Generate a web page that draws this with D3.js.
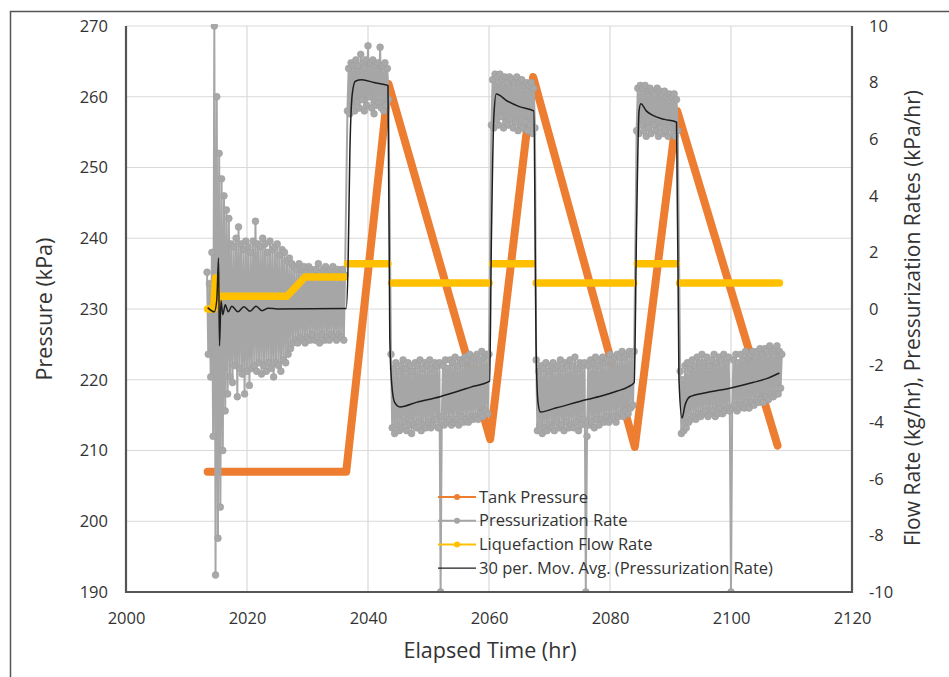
<!DOCTYPE html>
<html>
<head>
<meta charset="utf-8">
<script src="https://cdn.jsdelivr.net/npm/d3@7"></script>
<style>
  body { margin: 0; background: #fff; }
  text { font-family: "Open Sans", sans-serif; fill: #333; }
</style>
</head>
<body>
<script>
/* tank pressure, kPa (left axis) */
var pressTime = [2013.5, 2036.4, 2043.4, 2060.2, 2067.3, 2084.1, 2091.1, 2107.7];
var pressVal  = [207.0, 207.0, 261.8, 211.6, 262.8, 210.5, 258.0, 210.7];

/* pressurization rate, kPa/hr (right axis) - blocks sampled every 0.2 hr */
var rateStart = [2013.4, 2017.2, 2036.6, 2043.8, 2060.4, 2067.8, 2084.4, 2091.6];
var rateStep = 0.2;
var rateEarly1 = [1.3, -1.6, 0.9, -2.4, 2.0, -4.5, 10.0, -9.4, 7.5, -8.1, 5.5, -7.0, 4.6, -5.0, 4.0, -3.6, 3.5, -3.0, 3.2];
var rateEarly2 = [-2.4, 2.3, -2.6, 2.2, -2.0, 2.5, -3.1, 2.9, -2.1, 2.3,
                  -2.3, 2.1, -3.0, 2.4, -2.2, 2.2, -2.7, 2.0, -2.1, 2.4,
                  -2.0, 3.1, -2.2, 2.3, -1.9, 2.2, -2.3, 2.5, -2.0, 2.3,
                  -2.2, 2.0, -1.9, 2.4, -2.1, 2.1, -2.4, 2.2, -1.9, 2.3,
                  -2.0, 1.9, -2.2, 2.1, -1.8, 2.0, -1.9, 1.7, -1.6, 1.8,
                  -1.4, 1.6, -1.2, 1.5, -1.1, 1.4, -1.2, 1.6, -1.0, 1.4,
                  -1.1, 1.5, -1.2, 1.3, -1.0, 1.5, -1.1, 1.4, -0.9, 1.3,
                  -1.1, 1.4, -1.0, 1.6, -1.2, 1.3, -0.9, 1.4, -1.1, 1.5,
                  -1.0, 1.3, -1.1, 1.4, -0.9, 1.5, -1.0, 1.3, -1.1, 1.4,
                  -0.9, 1.3, -1.0, 1.4, -1.1, 1.2];
var rateA = [7.0, 8.5, 6.9, 8.7, 7.2, 8.6, 7.0, 8.8, 7.3, 8.6,
             7.1, 9.0, 7.4, 8.7, 7.0, 8.8, 7.2, 9.3, 7.5, 8.7,
             7.1, 8.8, 6.9, 8.6, 7.2, 8.7, 7.3, 9.25, 7.1, 8.6,
             7.0, 8.7, 7.2, 8.5, 7.4];
var rateB = [-1.6, -4.2, -2.1, -4.4, -1.9, -4.1, -2.2, -4.3, -2.0, -4.2,
             -1.8, -4.0, -2.1, -4.3, -1.9, -4.1, -2.0, -4.4, -2.2, -4.1,
             -1.9, -4.2, -2.0, -4.0, -1.8, -4.3, -2.1, -4.1, -1.9, -4.2,
             -2.0, -4.0, -1.8, -4.2, -2.1, -4.1, -1.9, -3.9, -2.0, -4.2,
             -1.9, -10.0, -3.8, -2.0, -4.1, -1.8, -4.0, -2.1, -3.9, -1.8,
             -4.1, -1.9, -4.0, -1.7, -3.9, -2.0, -4.1, -1.8, -3.8, -1.9,
             -4.0, -1.7, -3.9, -1.8, -4.0, -1.6, -3.8, -1.9, -3.9, -1.7,
             -3.8, -1.6, -3.9, -1.8, -3.7, -1.5, -3.8, -1.7, -3.6, -1.6,
             -3.7, -1.6];
var rateC = [6.5, 8.1, 6.4, 8.3, 6.7, 8.2, 6.5, 8.3, 6.8, 8.1,
             6.4, 8.2, 6.6, 8.0, 6.5, 8.2, 6.7, 8.1, 6.4, 8.0,
             6.6, 8.2, 6.3, 8.0, 6.5, 8.1, 6.4, 7.9, 6.6, 8.0,
             6.3, 7.9, 6.5, 8.0, 6.2, 7.8, 6.4];
var rateD = [-1.8, -4.3, -2.2, -4.1, -2.0, -4.4, -2.1, -4.2, -1.9, -4.3,
             -2.2, -4.1, -2.0, -4.2, -1.9, -4.3, -2.1, -4.0, -2.0, -4.2,
             -1.8, -4.1, -2.1, -4.3, -1.9, -4.0, -2.0, -4.2, -1.8, -4.1,
             -2.0, -4.2, -1.7, -4.0, -2.1, -4.3, -1.9, -4.1, -2.0, -3.9,
             -1.9, -10.0, -4.5, -2.0, -4.1, -1.8, -4.0, -1.9, -4.2, -1.7,
             -3.9, -2.0, -4.1, -1.8, -3.9, -1.7, -4.0, -1.9, -3.8, -1.8,
             -4.0, -1.6, -3.9, -1.8, -3.8, -1.7, -4.0, -1.6, -3.8, -1.7,
             -3.7, -1.5, -3.8, -1.7, -3.6, -1.6, -3.7, -1.5, -3.5, -1.6,
             -3.4, -1.5];
var rateE = [6.3, 7.8, 6.2, 7.9, 6.5, 7.8, 6.3, 7.9, 6.1, 7.7,
             6.4, 7.8, 6.2, 7.7, 6.5, 7.6, 6.3, 7.8, 6.1, 7.7,
             6.4, 7.6, 6.2, 7.7, 6.3, 7.5, 6.1, 7.6, 6.4, 7.5,
             6.2, 7.6, 6.1, 7.4, 6.3];
var rateF = [-2.2, -4.4, -2.5, -4.3, -2.0, -4.2, -1.9, -4.0, -2.1, -3.9,
             -1.8, -3.8, -2.0, -3.9, -1.7, -3.7, -1.9, -3.8, -1.6, -3.7,
             -1.9, -3.6, -1.7, -3.8, -2.0, -3.7, -1.8, -3.6, -1.6, -3.8,
             -1.9, -3.7, -1.7, -3.5, -1.8, -3.7, -1.6, -3.6, -1.9, -3.5,
             -1.7, -3.6, -10.0, -3.5, -1.8, -3.4, -1.6, -3.6, -1.9, -3.5,
             -1.6, -3.4, -1.8, -3.5, -1.5, -3.3, -1.7, -3.5, -1.6, -3.3,
             -1.5, -3.4, -1.7, -3.2, -1.5, -3.3, -1.4, -3.2, -1.6, -3.3,
             -1.4, -3.1, -1.5, -3.2, -1.3, -3.0, -1.5, -3.1, -1.4, -3.0,
             -1.3, -3.0, -1.5, -2.8, -1.6];
var rateBlocks = [rateEarly1, rateEarly2, rateA, rateB, rateC, rateD, rateE, rateF];

/* 30 per. moving average of pressurization rate */
var avgTime = [2013.5, 2014.6, 2015.0, 2015.3, 2015.45, 2015.7, 2016.0, 2016.4, 2016.9, 2017.5,
               2018.5, 2019.5, 2020.5, 2021.5, 2022.5, 2023.5, 2025.0, 2036.4,
               2036.7, 2037.0, 2037.4, 2037.9, 2039.0, 2041.0, 2043.3,
               2043.6, 2043.9, 2044.4, 2045.3, 2048.0, 2051.9, 2055.0, 2057.0, 2060.1,
               2060.4, 2060.8, 2061.2, 2063.0, 2065.0, 2067.4,
               2067.8, 2068.1, 2068.5, 2071.0, 2076.2, 2079.0, 2081.2, 2083.0, 2084.0,
               2084.4, 2084.8, 2085.1, 2086.0, 2087.0, 2089.0, 2091.0,
               2091.4, 2091.9, 2092.4, 2093.2, 2096.0, 2099.8, 2103.6, 2106.0, 2108.0];
var avgVal  = [0.05, -0.1, 0.3, 1.8, -1.3, 0.3, -0.2, 0.15, -0.1, 0.1,
               -0.1, 0.08, -0.08, 0.1, -0.06, 0.03, 0.0, 0.02,
               1.5, 5.5, 7.6, 8.05, 8.1, 8.0, 7.9,
               -1.0, -2.6, -3.3, -3.46, -3.3, -3.1, -2.9, -2.76, -2.55,
               2.5, 6.8, 7.6, 7.35, 7.15, 7.0,
               -1.5, -3.3, -3.64, -3.5, -3.2, -3.05, -2.9, -2.75, -2.6,
               3.0, 7.0, 7.25, 7.0, 6.85, 6.7, 6.6,
               -2.5, -3.85, -3.4, -3.1, -2.95, -2.8, -2.6, -2.45, -2.26];

/* liquefaction flow rate, kg/hr (right axis); null = break */
var liqTime = [2013.5, 2014.5, 2014.8, 2015.1, 2015.4, 2026.6, 2029.6, 2036.1, null,
               2036.6, 2043.3, null, 2043.9, 2060.0, null, 2060.6, 2067.2, null,
               2067.8, 2083.9, null, 2084.5, 2090.9, null, 2091.5, 2108.0];
var liqVal  = [0.0, 0.0, 1.1, 0.2, 0.45, 0.45, 1.13, 1.13, null,
               1.6, 1.6, null, 0.92, 0.92, null, 1.6, 1.6, null,
               0.92, 0.92, null, 1.6, 1.6, null, 0.92, 0.92];

var xTicks = [2000, 2020, 2040, 2060, 2080, 2100, 2120];
var leftTicks = [190, 200, 210, 220, 230, 240, 250, 260, 270];
var rightTicks = [-10, -8, -6, -4, -2, 0, 2, 4, 6, 8, 10];
var legendNames = ["Tank Pressure", "Pressurization Rate", "Liquefaction Flow Rate",
                   "30 per. Mov. Avg. (Pressurization Rate)"];

var W = 949, H = 677;
var svg = d3.select("body").append("svg").attr("width", W).attr("height", H);

// outer frame
svg.append("rect").attr("x", 10.5).attr("y", 11.5).attr("width", 980).attr("height", 700)
   .attr("fill", "none").attr("stroke", "#555").attr("stroke-width", 1.5);

var x = d3.scaleLinear().domain([2000, 2120]).range([126, 852]);
var yL = d3.scaleLinear().domain([190, 270]).range([592, 26]);
var yR = d3.scaleLinear().domain([-10, 10]).range([592, 26]);

// gridlines
svg.append("g").selectAll("line").data(leftTicks.slice(1)).enter().append("line")
   .attr("x1", x(2000)).attr("x2", x(2120))
   .attr("y1", function(d) { return yL(d); }).attr("y2", function(d) { return yL(d); })
   .attr("stroke", "#d9d9d9").attr("stroke-width", 1.2);
svg.append("g").selectAll("line").data(xTicks.slice(1, -1)).enter().append("line")
   .attr("y1", yL(270)).attr("y2", yL(190))
   .attr("x1", function(d) { return x(d); }).attr("x2", function(d) { return x(d); })
   .attr("stroke", "#d9d9d9").attr("stroke-width", 1.2);

// axes (labels only, lines drawn below)
var axL = svg.append("g").attr("transform", "translate(126,0)")
   .call(d3.axisLeft(yL).tickValues(leftTicks).tickSize(0).tickPadding(18));
var axR = svg.append("g").attr("transform", "translate(852,0)")
   .call(d3.axisRight(yR).tickValues(rightTicks).tickSize(0).tickPadding(17));
var axB = svg.append("g").attr("transform", "translate(0,592)")
   .call(d3.axisBottom(x).tickValues(xTicks).tickSize(0).tickPadding(20).tickFormat(d3.format("d")));
[axL, axR, axB].forEach(function(g) {
  g.select(".domain").remove();
  g.selectAll("text").attr("font-size", 16.5).attr("fill", "#333")
   .style("font-family", "'Open Sans', sans-serif");
});
axR.selectAll("text").text(function(d) { return d < 0 ? "-" + Math.abs(d) : d; });

// clip for data
svg.append("clipPath").attr("id", "plot").append("rect")
   .attr("x", 126).attr("y", 24).attr("width", 726).attr("height", 568);
var plot = svg.append("g").attr("clip-path", "url(#plot)");

// tank pressure
var pressPts = pressTime.map(function(t, i) { return [t, pressVal[i]]; });
plot.append("path").datum(pressPts)
    .attr("d", d3.line().x(function(d) { return x(d[0]); }).y(function(d) { return yL(d[1]); }))
    .attr("fill", "none").attr("stroke", "#ed7d31").attr("stroke-width", 8)
    .attr("stroke-linejoin", "round").attr("stroke-linecap", "round");

// pressurization rate
var ratePts = [];
rateBlocks.forEach(function(vals, b) {
  vals.forEach(function(v, i) { ratePts.push([rateStart[b] + i * rateStep, v]); });
});
plot.append("path").datum(ratePts)
    .attr("d", d3.line().x(function(d) { return x(d[0]); }).y(function(d) { return yR(d[1]); }))
    .attr("fill", "none").attr("stroke", "#a6a6a6").attr("stroke-width", 2)
    .attr("stroke-linejoin", "round");
plot.append("g").selectAll("circle").data(ratePts).enter().append("circle")
    .attr("cx", function(d) { return x(d[0]); }).attr("cy", function(d) { return yR(d[1]); })
    .attr("r", 3.4).attr("fill", "#a8a8a8").attr("stroke", "#9d9d9d").attr("stroke-width", 0.6);

// liquefaction flow rate
var liqPts = liqTime.map(function(t, i) { return [t, liqVal[i]]; });
plot.append("path").datum(liqPts)
    .attr("d", d3.line().defined(function(d) { return d[0] !== null; })
          .x(function(d) { return x(d[0]); }).y(function(d) { return yR(d[1]); }))
    .attr("fill", "none").attr("stroke", "#ffc000").attr("stroke-width", 7.5)
    .attr("stroke-linejoin", "round").attr("stroke-linecap", "round");

// moving average
var avgPts = avgTime.map(function(t, i) { return [t, avgVal[i]]; });
plot.append("path").datum(avgPts)
    .attr("d", d3.line().curve(d3.curveMonotoneX).x(function(d) { return x(d[0]); }).y(function(d) { return yR(d[1]); }))
    .attr("fill", "none").attr("stroke", "#1e1e1e").attr("stroke-width", 1.5);

// axis lines
svg.append("line").attr("x1", 126).attr("x2", 126).attr("y1", 26).attr("y2", 593)
   .attr("stroke", "#555").attr("stroke-width", 2.2);
svg.append("line").attr("x1", 852).attr("x2", 852).attr("y1", 26).attr("y2", 593)
   .attr("stroke", "#555").attr("stroke-width", 2.2);
svg.append("line").attr("x1", 125).attr("x2", 853).attr("y1", 592).attr("y2", 592)
   .attr("stroke", "#555").attr("stroke-width", 2.2);

// axis titles
svg.append("text").attr("transform", "translate(52,309) rotate(-90)")
   .attr("text-anchor", "middle").attr("font-size", 21.5).text("Pressure (kPa)");
svg.append("text").attr("transform", "translate(920,318) rotate(-90)")
   .attr("text-anchor", "middle").attr("font-size", 21)
   .text("Flow Rate (kg/hr), Pressurization Rates (kPa/hr)");
svg.append("text").attr("x", 490).attr("y", 658)
   .attr("text-anchor", "middle").attr("font-size", 21.5).text("Elapsed Time (hr)");

// legend
var legColors = ["#ed7d31", "#a5a5a5", "#ffc000", "#1e1e1e"];
var leg = svg.append("g").selectAll("g").data(legendNames).enter().append("g")
   .attr("transform", function(d, i) { return "translate(438," + (497 + i * 23.7) + ")"; });
leg.append("line").attr("x1", 0).attr("x2", 38).attr("y1", 0).attr("y2", 0)
   .attr("stroke", function(d, i) { return legColors[i]; })
   .attr("stroke-width", function(d, i) { return i === 3 ? 1.3 : 2; });
leg.filter(function(d, i) { return i < 3; }).append("circle")
   .attr("cx", 19).attr("cy", 0).attr("r", 3)
   .attr("fill", function(d, i) { return legColors[i]; });
leg.append("text").attr("x", 41).attr("y", 5.5).attr("font-size", 16.5).text(function(d) { return d; });
</script>
</body>
</html>
